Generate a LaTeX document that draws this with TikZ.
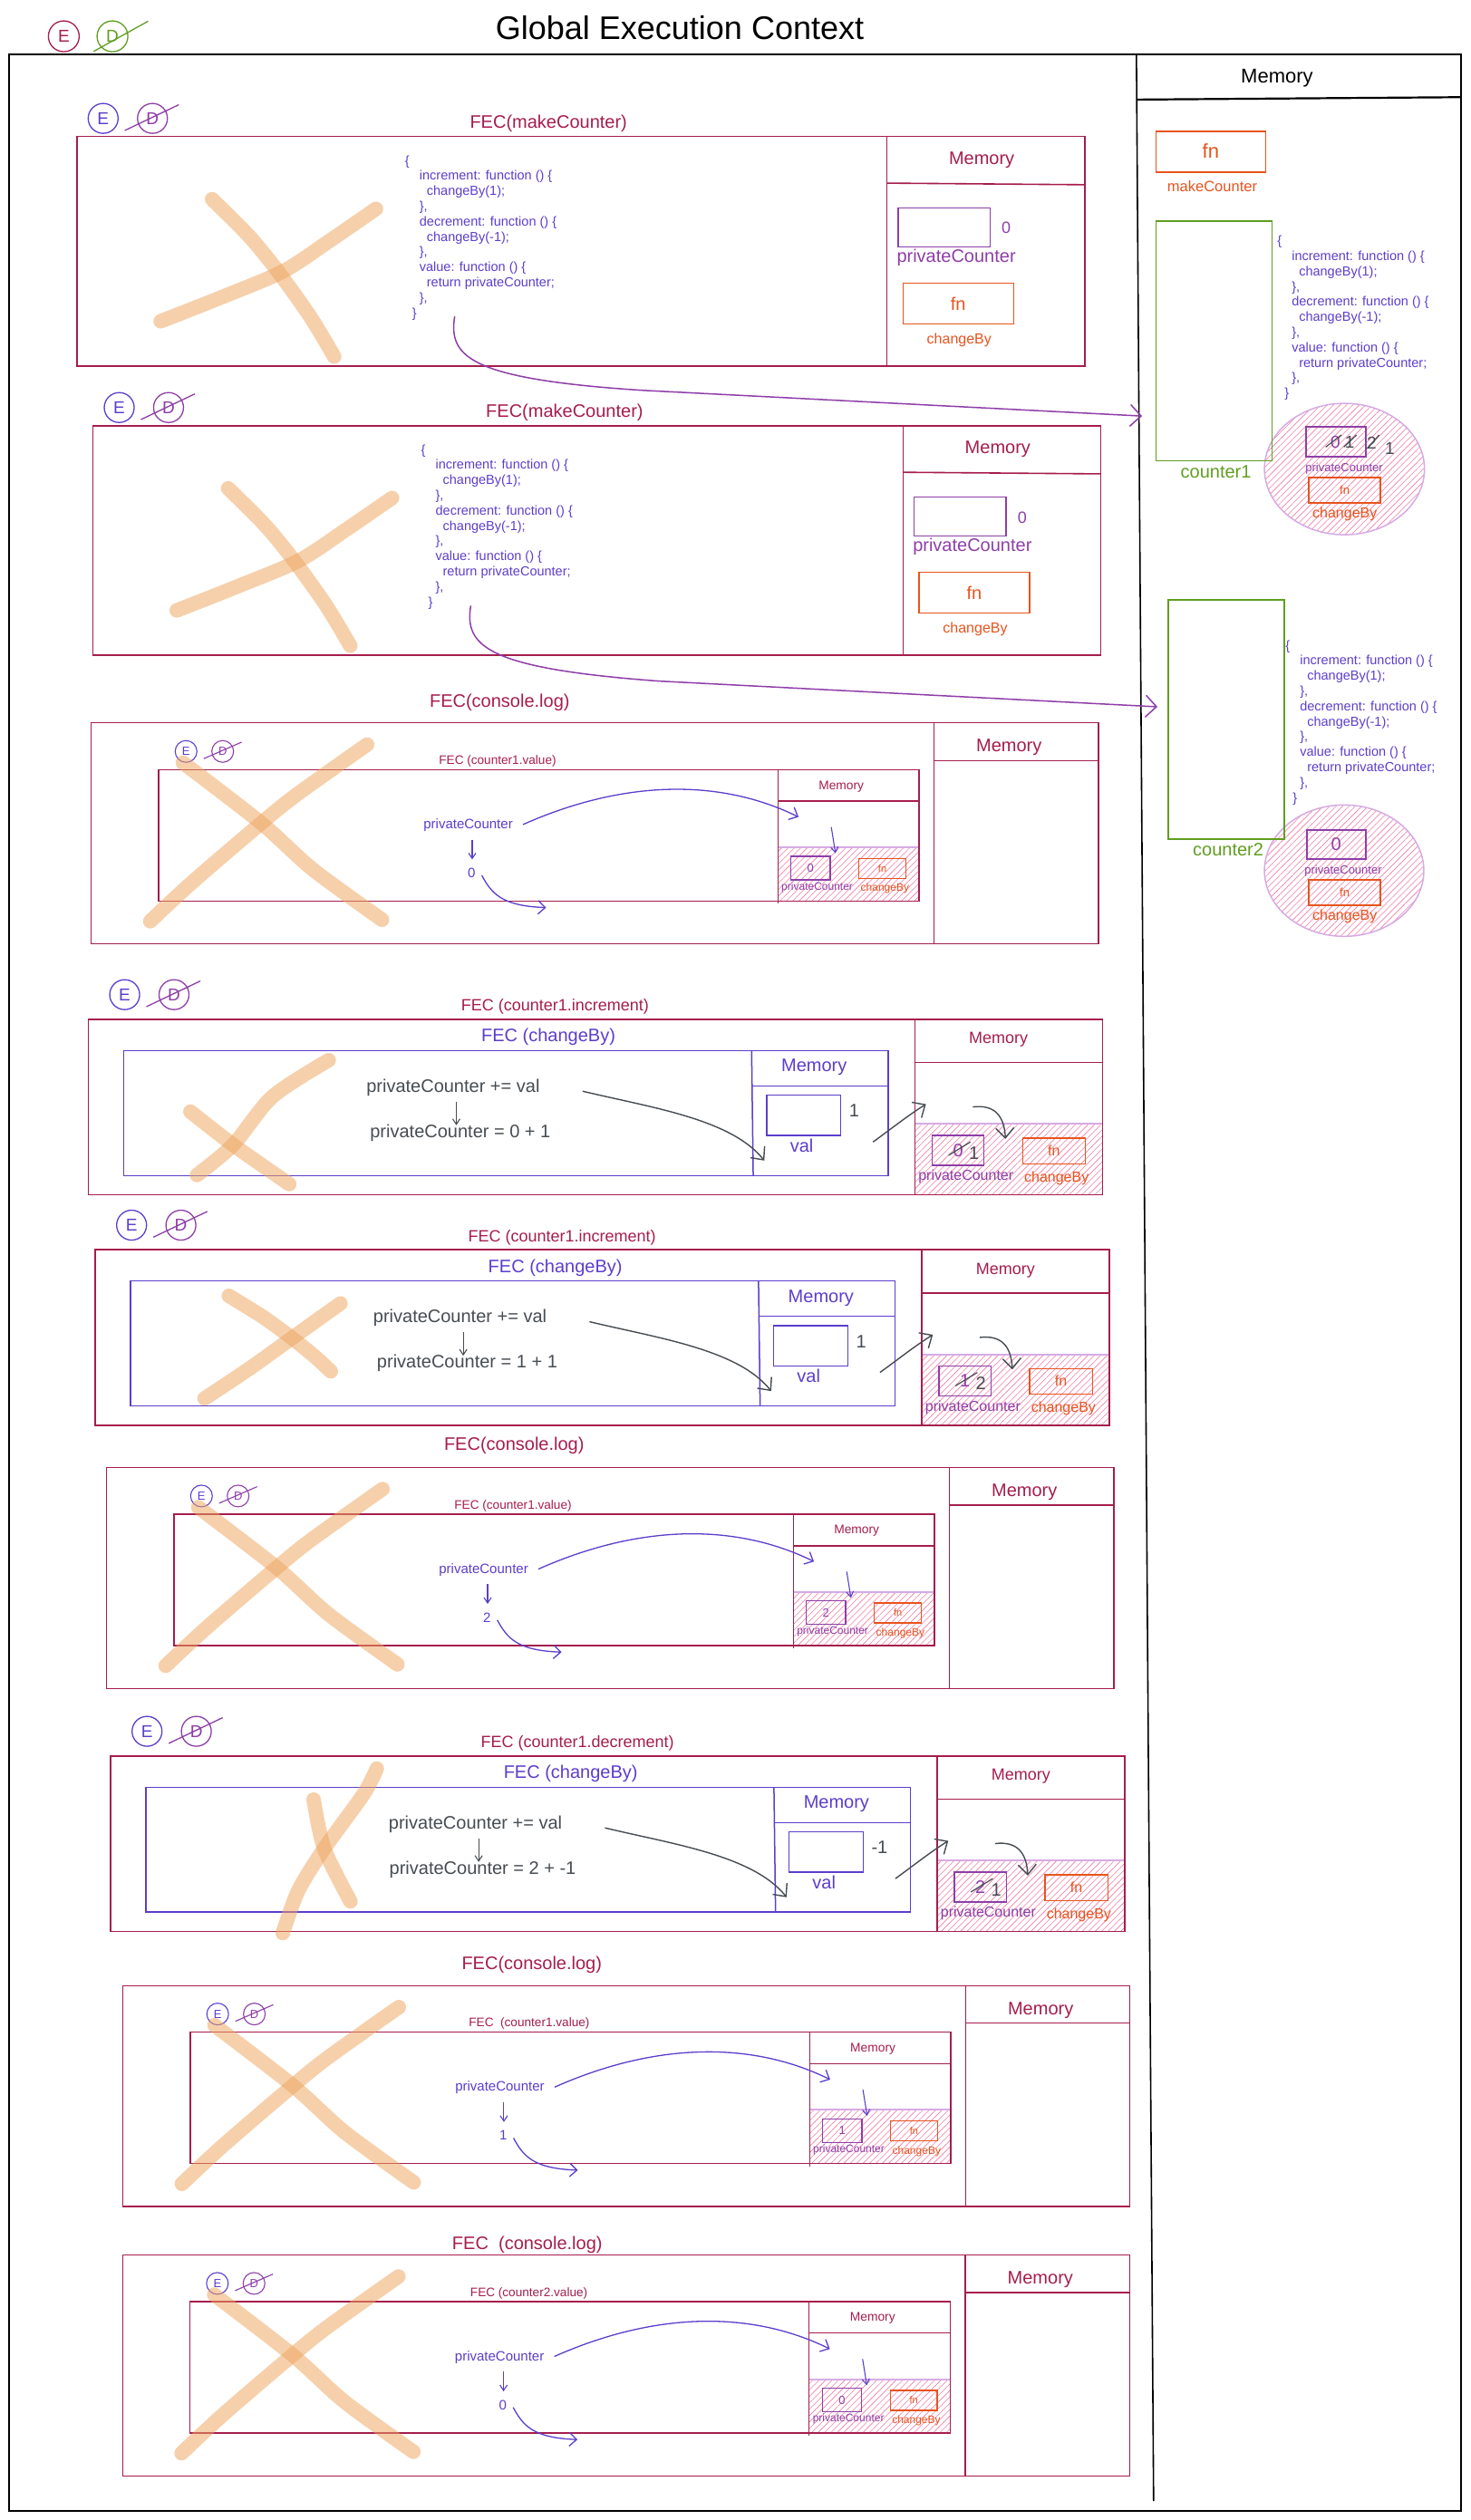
\documentclass[tikz,border=0pt]{standalone}
\usepackage{fontspec}
\setmainfont{Liberation Sans}
\usetikzlibrary{arrows.meta,patterns.meta}
\definecolor{crim}{RGB}{166,29,77}
\definecolor{purp}{RGB}{142,62,168}
\definecolor{indi}{RGB}{92,62,204}
\definecolor{grn}{RGB}{96,158,32}
\definecolor{org}{RGB}{231,84,30}
\definecolor{gry}{RGB}{70,76,82}
\definecolor{xcol}{RGB}{238,165,95}
\definecolor{hatchc}{RGB}{240,125,165}
\definecolor{hbord}{RGB}{215,170,228}
\newcommand\fsz[1]{\fontsize{#1}{#1}\selectfont}
\tikzset{
  tx/.style={inner sep=0pt, outer sep=0pt},
  tcrim/.style={tx, text=crim},
  tindi/.style={tx, text=indi},
  tpurp/.style={tx, text=purp},
  torg/.style={tx, text=org},
  tgry/.style={tx, text=gry},
  tgrn/.style={tx, text=grn},
  crimbox/.style={draw=crim, line width=1.6pt},
  crimthin/.style={draw=crim, line width=1.1pt},
  indibox/.style={draw=indi, line width=1.5pt},
  purpbox/.style={draw=purp, line width=1.4pt},
  orgbox/.style={draw=org, line width=1.4pt},
  grnbox/.style={draw=grn, line width=1.5pt},
  xstroke/.style={draw=xcol, line width=16pt, line cap=round, line join=round, opacity=0.52},
  hatched/.style={pattern={Lines[angle=45,distance=5pt,line width=0.6pt]}, pattern color=hatchc},
  bigarrow/.style={draw=purp, line width=1.5pt, -{Straight Barb[length=12pt,width=24pt]}},
  blarrow/.style={draw=indi, line width=1.3pt, -{Straight Barb[length=8pt,width=15pt]}},
  smarrow/.style={draw=indi, line width=1.1pt, -{Straight Barb[length=6pt,width=8pt]}},
  gyarrow/.style={draw=gry, line width=1.4pt, -{Straight Barb[length=11pt,width=20pt]}},
  gysm/.style={draw=gry, line width=1.1pt, -{Straight Barb[length=6pt,width=8pt]}},
  code/.style={tx, anchor=north west, align=left, text=indi, font={\fontsize{14.5}{16.8}\selectfont}},
}
\newcommand\codetext{\{\\
\hspace*{16pt}increment: function () \{\\
\hspace*{24pt}changeBy(1);\\
\hspace*{16pt}\},\\
\hspace*{16pt}decrement: function () \{\\
\hspace*{24pt}changeBy(-1);\\
\hspace*{16pt}\},\\
\hspace*{16pt}value: function () \{\\
\hspace*{24pt}return privateCounter;\\
\hspace*{16pt}\},\\
\hspace*{8pt}\}}
% big E / D pair: name, x, y
\newcommand\EDbig[3]{%
  \node[tx,circle,draw=indi,text=indi,line width=1.3pt,minimum size=33pt,font=\fsz{19}] (#1E) at (#2,#3) {E};
  \node[tx,circle,draw=purp,text=purp,line width=1.3pt,minimum size=33pt,font=\fsz{19}] (#1D) at ({#2+30.7},#3) {D};
  \draw[purp,line width=1.3pt] ({#2+30.7-17.2},{#3+7.5}) -- ({#2+30.7+16.4},{#3-8.5});
}
% small E / D pair
\newcommand\EDsmall[3]{%
  \node[tx,circle,draw=indi,text=indi,line width=1.1pt,minimum size=24pt,font=\fsz{13}] (#1E) at (#2,#3) {E};
  \node[tx,circle,draw=purp,text=purp,line width=1.1pt,minimum size=24pt,font=\fsz{13}] (#1D) at ({#2+22.8},#3) {D};
  \draw[purp,line width=1.1pt] ({#2+22.8-11.8},{#3+4.5}) -- ({#2+22.8+11.8},{#3-5.8});
}
% makeCounter block: prefix, x, y
\newcommand\makeblock[3]{%
\begin{scope}[shift={(#2,#3)}]
  \draw[xstroke] plot[smooth] coordinates {(84.2,39) (107.2,62) (125.2,84) (145.2,112) (160.2,137)};
  \draw[xstroke] plot[smooth] coordinates {(52.2,115) (90.2,100) (128.2,84) (157.2,65) (186.2,45)};
  \draw[crimbox] (0,0) rectangle (627.4,142.9);
  \draw[crimthin] (504.2,0) -- (504.2,142.9);
  \draw[crimbox] (504.2,29) -- (627.4,30);
  \node[tcrim,font=\fsz{20}] (#1title) at (293.6,-7.9) {FEC(makeCounter)};
  \EDbig{#1}{16.4}{-11.3}
  \node[tcrim,font=\fsz{20}] (#1mem) at (563.2,14.7) {Memory};
  \draw[purpbox] (511.2,44.4) rectangle (568.4,68.8);
  \node[tpurp,font=\fsz{18}] (#1val) at (578.4,57) {0};
  \node[tpurp,font=\fsz{20}] (#1pcl) at (547.4,75.4) {privateCounter};
  \draw[orgbox] (514.2,91.2) rectangle (583,116.6);
  \node[torg,font=\fsz{20}] (#1fn) at (548.6,103.9) {fn};
  \node[torg,font=\fsz{16}] (#1cb) at (549.2,126.9) {changeBy};
  \node[code] (#1code) at (204.3,11.8) {\codetext};
  \coordinate (#1out) at (235.2,112);
\end{scope}}
% changeBy block: prefix, x, y, old, new, val, rhs, title
\newcommand\chblock[8]{%
\begin{scope}[shift={(#2,#3)}]
  \fill[hatched] (514.4,65.1) rectangle (631.3,109.3);
  \draw[hbord,line width=2pt] (514.4,65.1) -- (631.3,65.1);
  \draw[crimbox] (0,0) rectangle (631.3,109.3);
  \draw[crimbox] (514.4,0) -- (514.4,109.3);
  \draw[crimbox] (514.4,27) -- (631.3,27);
  \node[tcrim,font=\fsz{18}] (#1title) at (290.5,-7.8) {#8};
  \EDbig{#1}{22.6}{-15.3}
  \node[tcrim,font=\fsz{18}] (#1mem) at (566.5,12.8) {Memory};
  \node[tindi,font=\fsz{20}] (#1ftitle) at (286.3,11.3) {FEC (changeBy)};
  \draw[indibox] (22,19.5) rectangle (497.8,97.3);
  \draw[indibox] (412.8,19.5) -- (413.8,97.3);
  \draw[indibox] (412.8,41.5) -- (497.8,41.5);
  \node[tindi,font=\fsz{20}] (#1imem) at (451.7,30) {Memory};
  \draw[indibox] (422.2,47.3) rectangle (468.3,72.4);
  \node[tgry,font=\fsz{20},anchor=west] (#1vv) at (473.5,57) {#6};
  \node[tindi,font=\fsz{20}] (#1val) at (444,78.7) {val};
  \node[tgry,font=\fsz{20}] (#1eq1) at (227,42.6) {privateCounter += val};
  \node[tgry,font=\fsz{20}] (#1eq2) at (231.5,70.6) {privateCounter = #7};
  \draw[gysm] (229,51.2) -- (229,66);
  \draw[gyarrow] (307.6,44.8) .. controls (350,55) and (400,62) .. (420.7,88);
  \draw[gyarrow] (488.4,76.4) .. controls (500,68) and (510,60) .. (521.3,52.9);
  \draw[gyarrow] (550.5,54.6) .. controls (564,53) and (570,60) .. (570.8,74.5);
  \draw[purpbox] (525.2,72.4) rectangle (557.5,90.9);
  \node[tpurp,font=\fsz{20}] (#1old) at (541.3,81.5) {#4};
  \draw[gry,line width=1.2pt] (535.4,84.7) -- (549,76.4);
  \node[tgry,font=\fsz{20}] (#1new) at (551.2,83.2) {#5};
  \node[tpurp,font=\fsz{16}] (#1pcl) at (546.2,98) {privateCounter};
  \draw[orgbox] (581.5,74) rectangle (620.6,90);
  \node[torg,font=\fsz{16}] (#1fn) at (601,81.8) {fn};
  \node[torg,font=\fsz{16}] (#1cb) at (602.6,99) {changeBy};
\end{scope}}
% console.log block: prefix, x, y, title, title x, title y, inner title, digit
\newcommand\conblock[8]{%
\begin{scope}[shift={(#2,#3)}]
  \fill[hatched] (427.2,77.5) rectangle (515.1,110.9);
  \draw[hbord,line width=2pt] (427.2,77.5) -- (515.1,77.5);
  \draw[crimthin] (0,0) rectangle (626.8,137.6);
  \draw[crimthin] (524.4,0) -- (524.4,137.6);
  \draw[crimthin] (524.4,23.5) -- (626.8,23.5);
  \node[tcrim,font=\fsz{20}] (#1title) at (#5,#6) {#4};
  \node[tcrim,font=\fsz{20}] (#1mem) at (571.1,15.4) {Memory};
  \EDsmall{#1}{58.9}{17.8}
  \node[tcrim,font=\fsz{13.6}] (#1ititle) at (252.8,23.8) {#7};
  \draw[crimbox] (41.8,29.1) rectangle (515.1,110.9);
  \draw[crimthin] (427.2,29.1) -- (427.2,112.5);
  \draw[crimbox] (427.2,48.7) -- (515.1,48.7);
  \node[tcrim,font=\fsz{13.8}] (#1imem) at (466.7,39.5) {Memory};
  \draw[purpbox] (435.4,83.1) rectangle (459.8,97.7);
  \node[tpurp,font=\fsz{13}] (#1dig) at (447.6,90.4) {#8};
  \node[tpurp,font=\fsz{12}] (#1pcl) at (451.7,102.3) {privateCounter};
  \draw[orgbox] (477.7,84.4) rectangle (506.9,96.8);
  \node[torg,font=\fsz{11}] (#1fn) at (492.3,90.6) {fn};
  \node[torg,font=\fsz{12}] (#1cb) at (493.9,103.2) {changeBy};
  \node[tindi,font=\fsz{15}] (#1pc) at (234.5,63.7) {privateCounter};
  \node[tindi,font=\fsz{15}] (#1res) at (236.6,93.4) {#8};
  \draw[smarrow] (237,72.7) -- (237,85);
  \draw[blarrow] (243,95) .. controls (249,106) and (255,114) .. (283,115);
  \draw[blarrow] (268.6,63.3) .. controls (330,36) and (390,34) .. (440.1,58.6);
  \draw[smarrow] (460.5,64.9) -- (463.1,81.2);
  \draw[xstroke] plot[smooth] coordinates {(56.9,24.8) (105.7,62.4) (138.1,91.5) (180.9,122.6)};
  \draw[xstroke] plot[smooth] coordinates {(36.6,123.5) (63,99) (105.7,62.4) (128,44.5) (171.6,13.5)};
\end{scope}}

\begin{document}
\begin{tikzpicture}[x=1.772678pt,y=-1.772678pt]
\useasboundingbox (0,0) rectangle (915,1568.8);
\fill[white] (0,0) rectangle (915,1568.8);

% ---------- global ----------
\node[tx,font=\fsz{36}] (gtitle) at (423.1,17.3) {Global Execution Context};
\node[tx,circle,draw=crim,text=crim,line width=1.3pt,minimum size=34pt,font=\fsz{19}] (gE) at (39.7,22.6) {E};
\node[tx,circle,draw=grn,text=grn,line width=1.3pt,minimum size=34pt,font=\fsz{19}] (gD) at (70,22.6) {D};
\draw[grn,line width=1.3pt] (58.3,32) -- (92.2,13.2);
\draw[line width=2.2pt] (5.8,33.8) rectangle (909.2,1563.2);
\draw[line width=1.6pt] (707.3,33.8) -- (718,1557);
\draw[line width=2.2pt] (707.3,62) -- (909.2,60.5);
\node[tx,font=\fsz{22}] (gmem) at (794.8,48.5) {Memory};

\draw[orgbox] (719.5,81.8) rectangle (787.8,107.2);
\node[torg,font=\fsz{22}] (gfn) at (753.6,94.2) {fn};
\node[torg,font=\fsz{16.5}] (gmk) at (754.5,116) {makeCounter};

% counter1
\draw[hbord,line width=1.5pt,hatched] (836.8,292) ellipse [x radius=49.8, y radius=40.9];
\draw[grnbox] (719.6,137.6) rectangle (791.6,286.8);
\node[tgrn,font=\fsz{20}] (c1lab) at (756.8,293.7) {counter1};
\coordinate (c1in) at (710.8,259);
\node[code] (c1code) at (795,146.8) {\codetext};
\draw[purpbox] (812.9,265.7) rectangle (850.1,284.3);
\node[tpurp,font=\fsz{19}] (c1d0) at (831.1,275.5) {0};
\node[tgry,font=\fsz{19}] (c1d1) at (840.1,275.5) {1};
\node[tgry,font=\fsz{19}] (c1d2) at (853.7,275.5) {2};
\node[tgry,font=\fsz{19}] (c1d3) at (865,279.2) {1};
\draw[gry,line width=1.2pt] (825.1,278.3) -- (834.9,270.8);
\draw[gry,line width=1.2pt] (836.4,278.3) -- (844.3,270.8);
\draw[gry,line width=1.2pt] (850.9,279.2) -- (858.4,270.8);
\node[tpurp,font=\fsz{13}] (c1pcl) at (836.6,291.5) {privateCounter};
\draw[orgbox] (814.6,297.3) rectangle (859.1,313.1);
\node[torg,font=\fsz{13}] (c1fn) at (836.9,305.2) {fn};
\node[torg,font=\fsz{16}] (c1cb) at (837,319.8) {changeBy};

% counter2
\draw[hbord,line width=1.5pt,hatched] (836.6,542) ellipse [x radius=49.6, y radius=40.9];
\draw[grnbox] (727.2,373.4) rectangle (799.3,522.4);
\node[tgrn,font=\fsz{20}] (c2lab) at (764.4,529) {counter2};
\coordinate (c2in) at (720.4,440);
\node[code] (c2code) at (800.1,398.6) {\codetext};
\draw[purpbox] (813.4,516.7) rectangle (850.1,534.8);
\node[tpurp,font=\fsz{20}] (c2d0) at (831.6,525.8) {0};
\node[tpurp,font=\fsz{13}] (c2pcl) at (836,542) {privateCounter};
\draw[orgbox] (814.6,547.7) rectangle (859.1,563.6);
\node[torg,font=\fsz{13}] (c2fn) at (836.9,555.6) {fn};
\node[torg,font=\fsz{16}] (c2cb) at (837,570.3) {changeBy};

% ---------- makeCounter blocks ----------
\makeblock{mkA}{47.8}{85}
\makeblock{mkB}{57.8}{265}
\draw[bigarrow] (mkAout) .. controls (279,222) and (292,236) .. (400,243) -- (c1in);
\draw[bigarrow] (mkBout) .. controls (289,402) and (302,416) .. (410,424) -- (c2in);

% ---------- console.log #1 ----------
\conblock{clA}{56.9}{450}{FEC(console.log)}{254.1}{-12.8}{FEC (counter1.value)}{0}

% ---------- increment #1 ----------
\chblock{inA}{55}{634.5}{0}{1}{1}{0 + 1}{FEC (counter1.increment)}
\draw[xstroke] plot[smooth] coordinates {(204.6,660) (169.7,682.6) (145.1,712.7) (122.6,731.5)};
\draw[xstroke] plot[smooth] coordinates {(118.5,692) (145.1,712.7) (180,737.1)};

% ---------- increment #2 ----------
\chblock{inB}{59.3}{778}{1}{2}{1}{1 + 1}{FEC (counter1.increment)}
\draw[xstroke] plot[smooth] coordinates {(142.4,806.7) (163.6,819.8) (181.7,833) (195.7,844.3) (205.9,853.7)};
\draw[xstroke] plot[smooth] coordinates {(211.9,811.4) (181.7,833) (155.5,851.8) (127.3,870.6)};

% ---------- console.log #2 ----------
\conblock{clB}{66.5}{913.5}{FEC(console.log)}{253.5}{-13.5}{FEC (counter1.value)}{2}

% ---------- decrement ----------
\chblock{deA}{68.9}{1093.1}{2}{1}{-1}{2 + -1}{FEC (counter1.decrement)}
\draw[xstroke] plot[smooth] coordinates {(234.5,1101) (226.2,1117) (201.8,1150.8) (185.6,1177.1) (176,1203.4)};
\draw[xstroke] plot[smooth] coordinates {(195.2,1120.3) (201.8,1150.8) (218.1,1183.7)};

% ---------- console.log #3 ----------
\conblock{clC}{76.6}{1236}{FEC(console.log)}{254.4}{-13}{FEC \ (counter1.value)}{1}

% ---------- console.log #4 ----------
\conblock{clD}{76.4}{1403.7}{FEC \ (console.log)}{251.8}{-6.2}{FEC (counter2.value)}{0}

\end{tikzpicture}
\end{document}
